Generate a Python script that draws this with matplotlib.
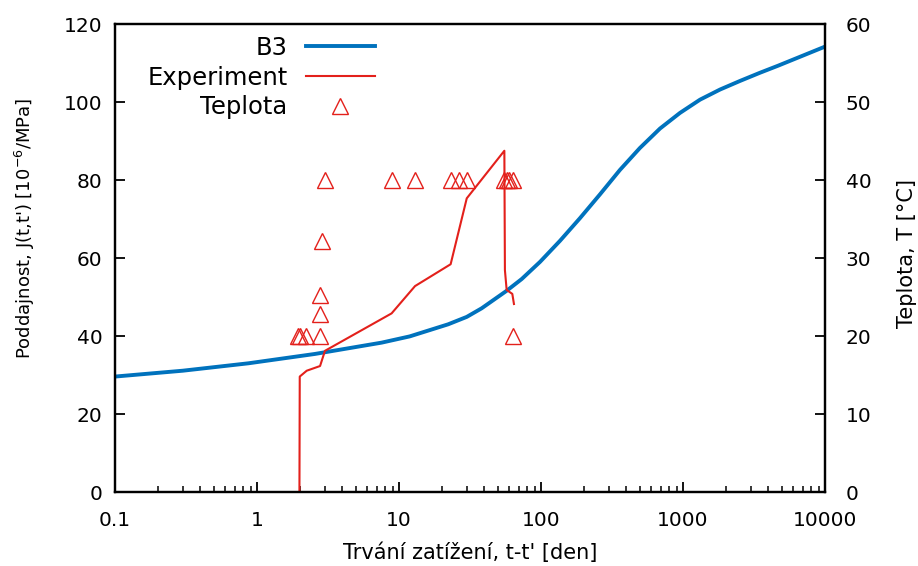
import matplotlib
matplotlib.use("Agg")
import matplotlib.pyplot as plt
from matplotlib.ticker import LogLocator, FixedLocator, NullFormatter

plt.rcParams['font.family'] = ['DejaVu Sans']

# B3 model compliance
b3_t = [0.1, 0.3, 0.87, 2.56, 7.55, 11.9, 22.2, 30, 38.2, 57.3, 73.1, 98.4, 136, 188,
        260, 360, 497, 689, 952, 1318, 1824, 2520, 3484, 4667, 10000]
b3_J = [29.6, 31.1, 33.0, 35.4, 38.3, 39.9, 43.0, 44.9, 47.1, 51.6, 54.6, 59.0, 64.4, 70.2,
        76.3, 82.6, 88.2, 93.2, 97.2, 100.6, 103.2, 105.4, 107.5, 109.3, 114.2]

# Experiment
exp_t = [1.99, 2.0, 2.24, 2.78, 3.01, 8.87, 12.97, 23.1, 30.0, 55.2, 55.7, 57.3, 62.8, 64.5]
exp_J = [0, 29.6, 31.1, 32.3, 36.2, 45.8, 52.8, 58.4, 75.3, 87.5, 56.9, 51.8, 50.8, 48.2]

# Temperature
temp_t = [1.95, 2.0, 2.22, 2.78, 2.8, 2.8, 2.85, 3.01, 8.87, 12.97, 23.1, 26.6,
          30.0, 55.2, 57.3, 59.8, 63.8, 63.8]
temp_T = [20, 20, 20, 20, 22.8, 25.3, 32.2, 40, 40, 40, 40, 40,
          40, 40, 40, 40, 40, 20]

xticks = [0.1, 1, 10, 100, 1000, 10000]
xticklabels = ['0.1', '1', '10', '100', '1000', '10000']

blue = '#0072bd'
red = '#e3201b'

fig = plt.figure(figsize=(9.18, 5.66), dpi=100)
ax = fig.add_axes([115/918, 1-492/566, 710/918, 468/566])
ax2 = ax.twinx()

l1, = ax.plot(b3_t, b3_J, color=blue, lw=2.8, label='B3', solid_joinstyle='round')
l2, = ax.plot(exp_t, exp_J, color=red, lw=1.5, label='Experiment')
l3, = ax2.plot(temp_t, temp_T, linestyle='none', marker='^', ms=12,
               mfc='none', mec=red, mew=1.0, label='Teplota')

ax.set_xscale('log')
ax.set_xlim(0.1, 10000)
ax.set_ylim(0, 120)
ax2.set_ylim(0, 60)
ax.set_yticks(range(0, 121, 20))
ax2.set_yticks(range(0, 61, 10))
ax.xaxis.set_major_locator(FixedLocator(xticks))
ax.set_xticklabels(xticklabels)
ax.xaxis.set_minor_locator(LogLocator(base=10, subs=range(2, 10), numticks=20))
ax.xaxis.set_minor_formatter(NullFormatter())

for a in (ax, ax2):
    for s in a.spines.values():
        s.set_linewidth(1.6)
ax.tick_params(axis='x', which='major', direction='in', length=7, width=1.3,
               labelsize=14.5, pad=14, top=False)
ax.tick_params(axis='y', which='major', direction='in', length=7, width=1.3,
               labelsize=14.5, pad=9, right=False)
ax.tick_params(axis='x', which='minor', direction='in', length=4, width=1.1, top=False)
ax2.tick_params(axis='y', which='major', direction='in', length=7, width=1.3,
                labelsize=14.5, pad=15)

ax.set_xlabel("Trvání zatížení, t-t' [den]", fontsize=15, va='center')
ax.xaxis.set_label_coords(0.5, (492-553)/468)
ax.set_ylabel("Poddajnost, J(t,t') [10$^{-6}$/MPa]", fontsize=13, va='center')
ax.yaxis.set_label_coords((25-115)/710, (492-228)/468)
ax2.set_ylabel("Teplota, T [°C]", fontsize=15, va='center')
ax2.yaxis.set_label_coords((907-115)/710, (492-254)/468)

leg = ax.legend(handles=[l1, l2, l3], loc='upper right',
                bbox_to_anchor=((375-115)/710, 0.975), frameon=False,
                markerfirst=False, fontsize=17.5, handlelength=2.85,
                handletextpad=0.75, labelspacing=0.24, borderaxespad=0, borderpad=0)
for col in leg._legend_handle_box.get_children():
    col.align = 'right'

fig.savefig('out.png', dpi=100)
